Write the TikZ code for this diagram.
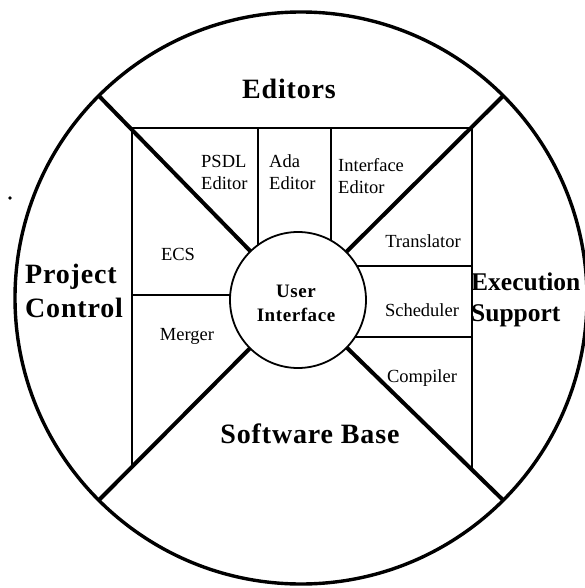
\documentclass[tikz,border=0pt]{standalone}
\usepackage{fontspec}
\setmainfont{Liberation Serif}
\newfontfamily\headfont[LetterSpace=3]{Liberation Serif}
\begin{document}
\begin{tikzpicture}[x=1pt,y=-1pt,
  rimline/.style={line width=3.4pt},
  spoke/.style={line width=4pt},
  thin/.style={line width=1.8pt},
  biglabel/.style={font=\headfont\bfseries\fontsize{28}{34}\selectfont, inner sep=0pt},
  sidelabel/.style={font=\bfseries\fontsize{25.5}{31}\selectfont, inner sep=0pt},
  hublabel/.style={font=\headfont\bfseries\fontsize{19}{24}\selectfont, inner sep=0pt, align=center},
  toollabel/.style={font=\fontsize{18.5}{22}\selectfont, inner sep=0pt}]
\useasboundingbox (0,0) rectangle (585,588);
\clip (0,0) rectangle (585,588);

% outer ring and central hub
\node[circle, draw, rimline, minimum size=572pt, inner sep=0pt, outer sep=0pt] (rim) at (301,298) {};
\path (298,300) node[circle, minimum size=136pt, inner sep=0pt, outer sep=0pt] (hub) {};

% tool frame: open at the bottom, where the software base sector lies
\coordinate (sqsw) at (132,466);
\coordinate (sqnw) at (132,128);
\coordinate (sqne) at (472,128);
\coordinate (sqse) at (472,468);
\draw[thin] (sqsw) -- (sqnw) -- (sqne) -- (sqse);

% dividers between the tools
\coordinate (v1t) at (258,128);  \coordinate (v1b) at (258,245);
\coordinate (v2t) at (331,128);  \coordinate (v2b) at (331,241);
\coordinate (hlw) at (132,295);  \coordinate (hle) at (230,295);
\coordinate (hr1w) at (357,266); \coordinate (hr1e) at (472,266);
\coordinate (hr2w) at (355,337); \coordinate (hr2e) at (472,337);
\draw[thin] (v1t) -- (v1b);
\draw[thin] (v2t) -- (v2b);
\draw[thin] (hlw) -- (hle);
\draw[thin] (hr1w) -- (hr1e);
\draw[thin] (hr2w) -- (hr2e);

% the four spokes
\draw[spoke] (rim.135) -- (hub);
\draw[spoke] (rim.45) -- (hub);
\draw[spoke] (rim.225) -- (hub);
\draw[spoke] (rim.315) -- (hub);

% hub drawn on top
\node[circle, draw, thin, fill=white, minimum size=136pt, inner sep=0pt, outer sep=0pt] (ui) at (298,300) {};
\node[hublabel] (uitext) at (296,303) {User\\Interface};

% sector titles
\node[biglabel, anchor=base] (editors) at (289,99) {Editors};
\node[biglabel, anchor=west, align=left] (project) at (25,291) {Project\\Control};
\node[sidelabel, anchor=west, align=left] (exec) at (471,300) {Execution\\Support};
\node[biglabel, anchor=base] (swbase) at (310,443) {Software Base};

% tool names
\node[toollabel, anchor=west, align=left] (psdl) at (201,172) {PSDL\\Editor};
\node[toollabel, anchor=west, align=left] (ada) at (269,172) {Ada\\Editor};
\node[toollabel, anchor=west, align=left] (ifed) at (338,176) {Interface\\Editor};
\node[toollabel, anchor=base] (ecs) at (178,260) {ECS};
\node[toollabel, anchor=base] (merger) at (187,340) {Merger};
\node[toollabel, anchor=base] (transl) at (423,247) {Translator};
\node[toollabel, anchor=base] (sched) at (422,316) {Scheduler};
\node[toollabel, anchor=base] (compl) at (422,382) {Compiler};

% small speck left of the ring
\fill (10,198) circle (1.8pt);
\end{tikzpicture}
\end{document}
